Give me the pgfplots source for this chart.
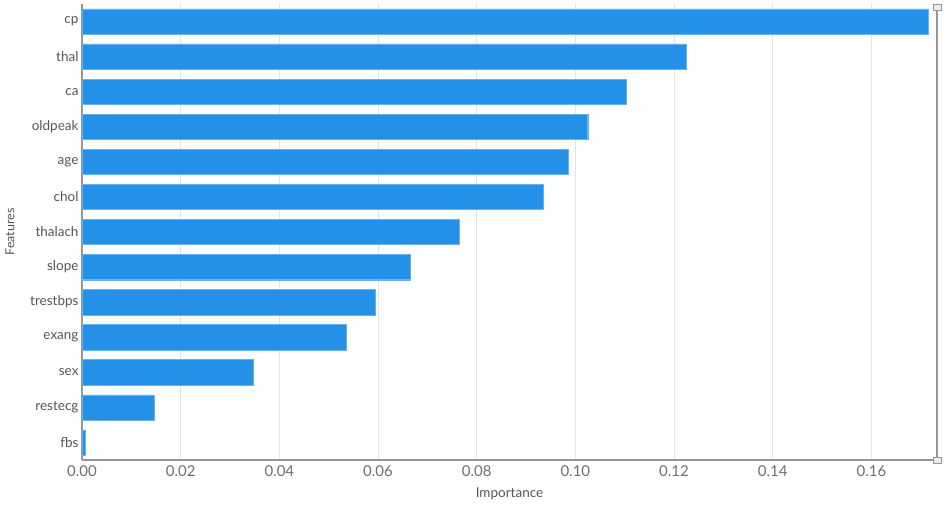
\documentclass[border=0pt]{standalone}
\usepackage{pgfplots}
\pgfplotsset{compat=1.18}
\usetikzlibrary{calc}
\usepackage{fontspec}
\setmainfont{Lato}
\definecolor{barblue}{RGB}{36,144,232}
\definecolor{txtgray}{RGB}{85,85,85}
\definecolor{tickgray}{RGB}{110,110,110}
\definecolor{axgray}{RGB}{150,150,150}
\definecolor{gridgray}{RGB}{228,228,228}

\begin{document}
\begin{tikzpicture}
\begin{axis}[
    scale only axis,
    at={(0,0)}, anchor=south west,
    width=855bp, height=456bp,
    xbar,
    bar width=0.72,
    xmin=0, xmax=0.1733,
    ymin=-0.5, ymax=12.5,
    ytick={0,...,12},
    yticklabels={fbs,restecg,sex,exang,trestbps,slope,thalach,chol,age,oldpeak,ca,thal,cp},
    xtick={0,0.02,...,0.16},
    xticklabel style={/pgf/number format/fixed,/pgf/number format/fixed zerofill,/pgf/number format/precision=2,
        font=\fontsize{15bp}{17bp}\selectfont, text=tickgray, yshift=-2bp},
    /pgf/number format/assume math mode=true,
    yticklabel style={font=\fontsize{13.5bp}{15bp}\selectfont, text=txtgray},
    xmajorgrids, grid style={gridgray, line width=0.8pt},
    axis x line*=bottom, axis y line*=left,
    axis line style={axgray, line width=1.6pt},
    major tick length=0pt,
    xlabel={Importance}, ylabel={Features},
    every axis x label/.style={at={(axis description cs:0.5,0)}, anchor=center, yshift=-34bp,
        font=\fontsize{13.5bp}{15bp}\selectfont, text=txtgray},
    every axis y label/.style={at={(axis description cs:0,0.5)}, anchor=center, rotate=90, yshift=72bp,
        font=\fontsize{12.5bp}{15bp}\selectfont, text=txtgray},
    clip=false,
]
\addplot[draw=barblue!70!white, line width=0.4pt, fill=barblue] coordinates {
    (0.0006,0) (0.0146,1) (0.0347,2) (0.0535,3) (0.0594,4) (0.0665,5)
    (0.0764,6) (0.0934,7) (0.0985,8) (0.1025,9) (0.1104,10) (0.1224,11) (0.1716,12)};
\draw[axgray, line width=1.6pt] (axis cs:0.1733,-0.5) -- (axis cs:0.1733,12.4);
\draw[axgray, fill=gray!15, line width=0.8pt] ($(axis cs:0.1733,12.4)+(-4bp,-3bp)$) rectangle ++(8bp,6bp);
\draw[axgray, fill=gray!15, line width=0.8pt] ($(axis cs:0.1733,-0.5)+(-4bp,-3bp)$) rectangle ++(8bp,6bp);
\end{axis}
\path (-82bp,-46bp) rectangle (864bp,4bp+456bp);
\end{tikzpicture}
\end{document}
